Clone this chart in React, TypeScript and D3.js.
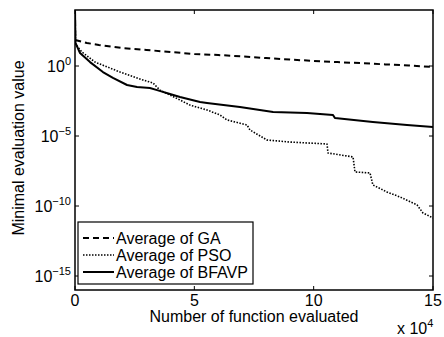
import React from "react";
import * as d3 from "d3";

// x in units of 1e4 function evaluations
const gaX = [0, 0.01, 0.5, 1, 2, 3, 4, 5, 6, 7, 8, 9, 10, 11, 12, 13, 14, 15];
const gaY = [1e4, 72, 44, 32, 19, 14, 10, 7.2, 6.1, 4.8, 3.7, 2.9, 2.3, 1.9, 1.6, 1.3, 1.1, 0.85];

const psoX = [0, 0.02, 0.29, 0.84, 1.89, 2.85, 3.27, 3.35, 3.56, 4.4, 4.82, 5.24, 5.53, 6.07, 6.37, 7.21, 7.33, 8.04, 9.0, 10.56, 10.6, 11.65, 11.73, 12.36, 12.48, 13.07, 13.62, 14.33, 14.58, 15];
const psoY = [1e4, 37, 10, 1.9, 0.37, 0.1, 0.061, 0.044, 0.019, 0.0037, 0.0016, 0.001, 7.2e-4, 3.2e-4, 1.4e-4, 6.1e-5, 2.7e-5, 5.2e-6, 3.7e-6, 2.7e-6, 6.1e-7, 3.2e-7, 2.7e-8, 2.3e-8, 3.2e-9, 1e-9, 4.4e-10, 1.2e-10, 3.2e-11, 1.4e-11];

const bfX = [0, 0.02, 0.21, 0.63, 1.17, 1.59, 2.18, 2.6, 3.14, 3.44, 3.98, 4.4, 5.24, 5.53, 6.91, 8.3, 9.72, 10.81, 10.89, 12.48, 13.91, 15];
const bfY = [1e4, 44, 8.5, 1.9, 0.37, 0.14, 0.044, 0.032, 0.027, 0.019, 0.01, 0.0061, 0.0027, 0.0023, 0.0012, 5.2e-4, 4.4e-4, 3.2e-4, 1.9e-4, 1e-4, 6.1e-5, 4.4e-5];

const xTicks = [0, 5, 10, 15];
const yTickExps = [0, -5, -10, -15];
const legendLabels = ["Average of GA", "Average of PSO", "Average of BFAVP"];

const FONT = "'Liberation Sans', Arial, sans-serif";

export default function App() {
  const L = 75, R = 433, T = 10, B = 290;
  const x = d3.scaleLinear().domain([0, 15]).range([L, R]);
  const y = d3.scaleLog().domain([1e-16, 1e4]).range([B, T]);
  const line = (xs: number[], ys: number[]) =>
    d3.line<number>().x((_, i) => x(xs[i])).y((_, i) => y(ys[i]))(xs) || "";

  const series = [
    { xs: gaX, ys: gaY, dash: "6,4", w: 2 },
    { xs: psoX, ys: psoY, dash: "1.5,1.5", w: 1.6 },
    { xs: bfX, ys: bfY, dash: "", w: 2 },
  ];
  const tl = 4;

  return (
    <svg width={444} height={337} style={{ position: "absolute", left: 0, top: 0, background: "#fff" }} fontFamily={FONT}>
      <defs>
        <clipPath id="clip">
          <rect x={L} y={T} width={R - L} height={B - T} />
        </clipPath>
      </defs>
      <rect x={0} y={0} width={444} height={337} fill="#fff" />
      <g clipPath="url(#clip)">
        {series.map((s, i) => (
          <path key={i} d={line(s.xs, s.ys)} fill="none" stroke="#000" strokeWidth={s.w}
            strokeDasharray={s.dash || undefined} strokeLinejoin="round" />
        ))}
      </g>
      {/* axes box */}
      <rect x={L} y={T} width={R - L} height={B - T} fill="none" stroke="#000" strokeWidth={1.5} />
      {/* x ticks */}
      {xTicks.map((t) => (
        <g key={"x" + t}>
          <line x1={x(t)} x2={x(t)} y1={B} y2={B - tl} stroke="#000" />
          <line x1={x(t)} x2={x(t)} y1={T} y2={T + tl} stroke="#000" />
          <text x={x(t)} y={306} fontSize={16} textAnchor="middle">{t}</text>
        </g>
      ))}
      {/* y ticks */}
      {yTickExps.map((e) => (
        <g key={"y" + e}>
          <line x1={L} x2={L + tl} y1={y(Math.pow(10, e))} y2={y(Math.pow(10, e))} stroke="#000" />
          <line x1={R} x2={R - tl} y1={y(Math.pow(10, e))} y2={y(Math.pow(10, e))} stroke="#000" />
          <text x={71} y={y(Math.pow(10, e)) + 6} fontSize={16} textAnchor="end">
            10<tspan fontSize={11} dy={-7}>{e === 0 ? "0" : "\u2212" + Math.abs(e)}</tspan>
          </text>
        </g>
      ))}
      <text x={254} y={322} fontSize={16} textAnchor="middle">Number of function evaluated</text>
      <text x={397} y={334} fontSize={16}>x 10<tspan fontSize={11} dy={-7}>4</tspan></text>
      <text transform={`translate(24,148) rotate(-90)`} fontSize={16} textAnchor="middle">Minimal evaluation value</text>
      {/* legend */}
      <rect x={78} y={222} width={175} height={62} fill="#fff" stroke="#000" strokeWidth={1.2} />
      {legendLabels.map((lab, i) => {
        const ly = 238 + i * 17;
        const s = series[i];
        return (
          <g key={lab}>
            <line x1={83} x2={114} y1={ly} y2={ly} stroke="#000" strokeWidth={s.w} strokeDasharray={s.dash || undefined} />
            <text x={116} y={ly + 6} fontSize={16}>{lab}</text>
          </g>
        );
      })}
    </svg>
  );
}
